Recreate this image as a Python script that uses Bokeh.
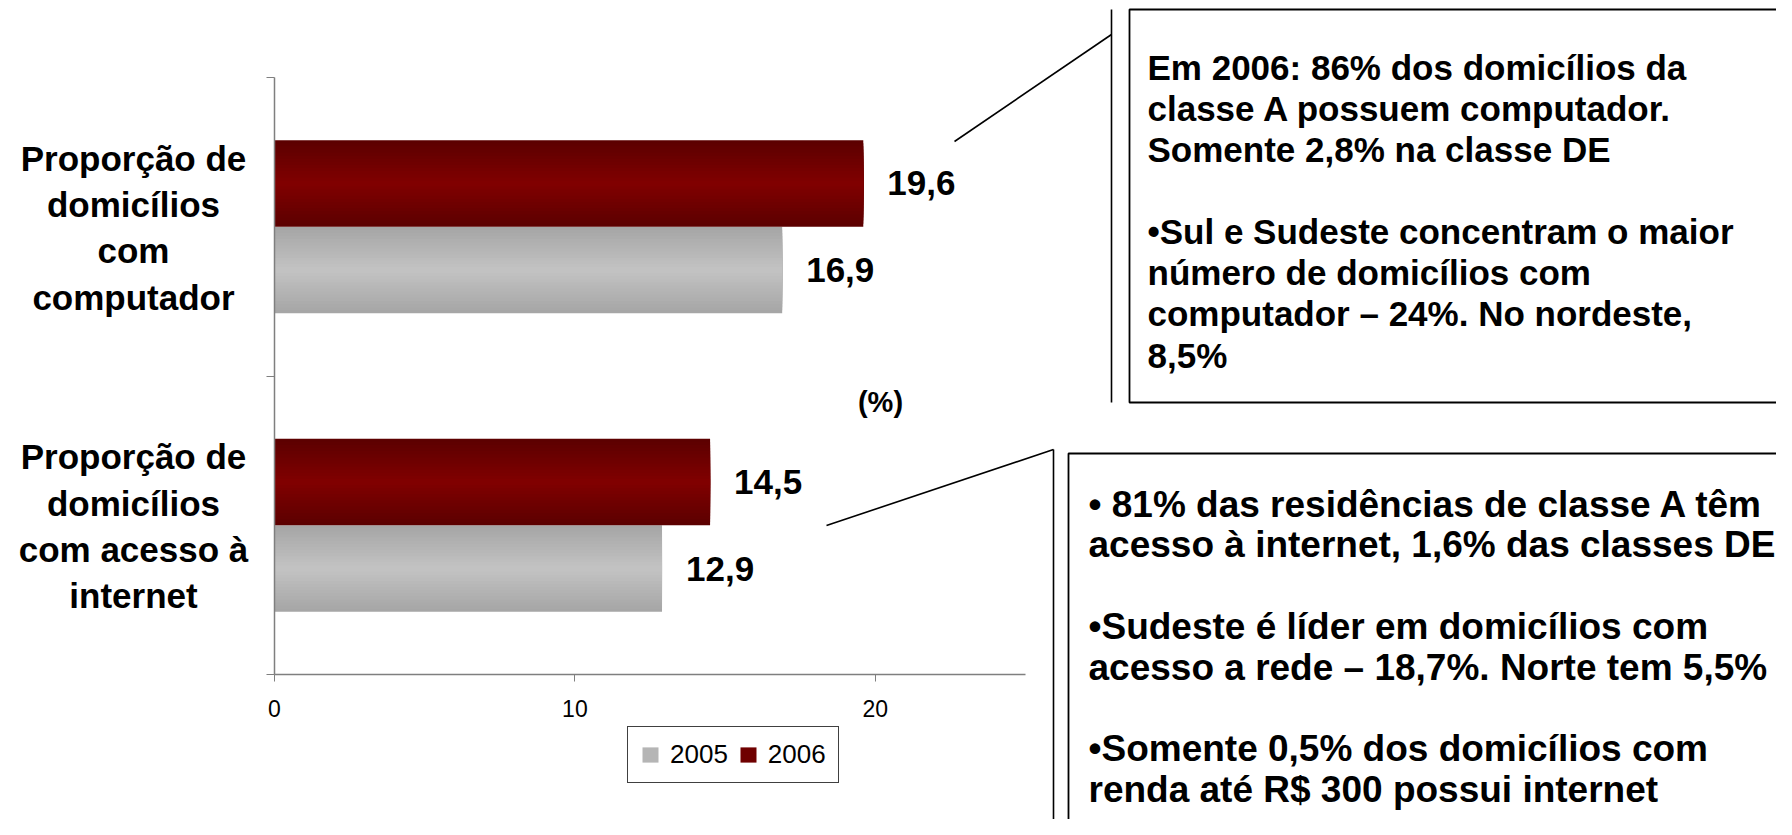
from bokeh.plotting import figure
from bokeh.models import (Label, Legend, LegendItem, FixedTicker, BoxAnnotation,
                          Arrow, ColumnDataSource, Range1d)
from bokeh.core.properties import value
from bokeh.embed import file_html
from bokeh.resources import INLINE

# ---------------- data ----------------
categories = ["Proporção de\ndomicílios\ncom\ncomputador",
              "Proporção de\ndomicílios\ncom acesso à\ninternet"]
cat_pos = [1.5, 0.5]
years = ["2005", "2006"]
v2005 = [16.9, 12.9]
v2006 = [19.6, 14.5]
x_ticks = [0, 10, 20]
unit_label = "(%)"

box1_text = ("Em 2006: 86% dos domicílios da\nclasse A possuem computador.\n"
             "Somente 2,8% na classe DE\n\n•Sul e Sudeste concentram o maior\n"
             "número de domicílios com\ncomputador – 24%. No nordeste,\n8,5%")
box2_text = ("• 81% das residências de classe A têm\nacesso à internet, 1,6% das classes DE\n\n"
             "•Sudeste é líder em domicílios com\nacesso a rede – 18,7%. Norte tem 5,5%\n\n"
             "•Somente 0,5% dos domicílios com\nrenda até R$ 300 possui internet")

FONT = "Liberation Sans"

def fmt(v):
    return f"{v:.1f}".replace(".", ",")

# ---------------- geometry (canvas pixels -> data) ----------------
W, HGT = 1776, 819
X0_PIX, X25_PIX = 274, 1025      # x = 0 and x = 25
Y0_PIX, Y2_PIX = 674, 77         # y = 0 and y = 2
SX = (X25_PIX - X0_PIX) / 25.0
SY = (Y0_PIX - Y2_PIX) / 2.0

def px(X):
    return (X - X0_PIX) / SX

def py(Y):
    return (Y0_PIX - Y) / SY

p = figure(width=W, height=HGT, min_border=0,
           x_range=Range1d(px(0), px(W)), y_range=Range1d(py(HGT), py(0)),
           output_backend="svg", toolbar_location=None, background_fill_color="white",
           border_fill_color="white")
p.outline_line_color = None
p.grid.visible = False

AX = "#7f7f7f"
p.xaxis.fixed_location = 0
p.xaxis.bounds = (0, 25)
p.xaxis.ticker = FixedTicker(ticks=x_ticks)
p.xaxis.major_tick_in = 0
p.xaxis.major_tick_out = 7
p.xaxis.minor_tick_line_color = None
p.xaxis.axis_line_color = AX
p.xaxis.major_tick_line_color = AX
p.xaxis.axis_line_width = 1.5
p.xaxis.major_label_text_font = FONT
p.xaxis.major_label_text_font_size = "23px"
p.xaxis.major_label_text_color = "black"
p.xaxis.major_label_standoff = 18

p.yaxis.fixed_location = 0
p.yaxis.bounds = (0, 2)
p.yaxis.ticker = FixedTicker(ticks=[0, 1, 2])
p.yaxis.major_label_overrides = {0: " ", 1: " ", 2: " "}
p.yaxis.major_tick_in = 0
p.yaxis.major_tick_out = 8
p.yaxis.minor_tick_line_color = None
p.yaxis.axis_line_color = AX
p.yaxis.major_tick_line_color = AX
p.yaxis.axis_line_width = 1.5

# ---------------- bars with pseudo-gradient ----------------
H = 0.29
N = 14

def lerp(c1, c2, t):
    a = [int(c1[i:i + 2], 16) for i in (1, 3, 5)]
    b = [int(c2[i:i + 2], 16) for i in (1, 3, 5)]
    return "#" + "".join(f"{round(x + (y - x) * t):02x}" for x, y in zip(a, b))

series = [
    ("2005", v2005, [c - H / 2 for c in cat_pos], "#a6a6a6", "#c2c2c2"),
    ("2006", v2006, [c + H / 2 for c in cat_pos], "#5c0000", "#800000"),
]
legend_items = []
for name, vals, ys, edge, center in series:
    src = ColumnDataSource(dict(y=ys, right=vals, lab=[fmt(v) for v in vals]))
    layers = []
    for k in range(N):
        t = k / (N - 1)
        r = p.hbar(y="y", right="right", left=0, height=H * (1 - k / N), source=src,
                   fill_color=lerp(edge, center, t), line_color=None)
        layers.append(r)
    legend_items.append(LegendItem(label=name, renderers=[layers[N // 2]]))
    p.text(x="right", y="y", text="lab", source=src, x_offset=24, y_offset=0,
           text_baseline="middle", text_align="left", text_font=value(FONT),
           text_font_style="bold", text_font_size="35px", text_color="black")

legend = Legend(items=legend_items, orientation="horizontal", location=(627, 36),
                label_text_font=FONT, label_text_font_size="26px", label_text_color="black",
                glyph_width=20, glyph_height=19, label_standoff=10, spacing=10,
                padding=12, margin=0, border_line_color="#404040", border_line_width=1.2,
                border_line_alpha=1.0, background_fill_alpha=1.0)
p.add_layout(legend)

# category labels
for txt, y in zip(categories, cat_pos):
    p.add_layout(Label(x=px(133), y=y, y_offset=-1, text=txt,
                       text_align="center", text_baseline="middle", text_font=FONT,
                       text_font_style="bold", text_font_size="35px",
                       text_line_height=1.19, text_color="black"))

# unit label
p.add_layout(Label(x=px(880), y=py(401), text=unit_label, text_align="center",
                   text_baseline="middle", text_font=FONT, text_font_style="bold",
                   text_font_size="29px", text_color="black"))

# ---------------- callout boxes ----------------
def line(X0, Y0, X1, Y1, w=1.6):
    p.add_layout(Arrow(end=None, x_start=px(X0), y_start=py(Y0), x_end=px(X1),
                       y_end=py(Y1), line_color="black", line_width=w))

def box(L, T, R, B):
    p.add_layout(BoxAnnotation(left=px(L), right=px(R), top=py(T), bottom=py(B),
                               fill_color="white", fill_alpha=1.0,
                               line_color="black", line_alpha=1.0, line_width=1.8,
                               level="underlay"))

line(954, 141, 1111, 34)
line(1111, 9, 1111, 402)
box(1129, 9, 1820, 402)
p.add_layout(Label(x=px(1147), y=py(47), text=box1_text,
                   text_align="left", text_baseline="top", text_font=FONT,
                   text_font_style="bold", text_font_size="35px",
                   text_line_height=1.055, text_color="black"))

line(826, 525, 1053, 449)
line(1053, 449, 1053, 860)
box(1068, 453, 1820, 870)
p.add_layout(Label(x=px(1088), y=py(483), text=box2_text,
                   text_align="left", text_baseline="top", text_font=FONT,
                   text_font_style="bold", text_font_size="37px",
                   text_line_height=0.995, text_color="black"))

open("out.html", "w").write(file_html(p, INLINE))
